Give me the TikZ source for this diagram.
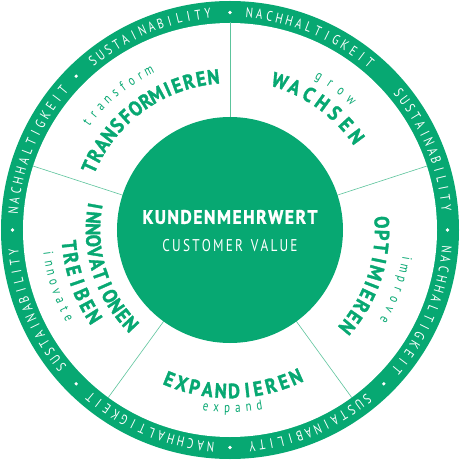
\documentclass[tikz,border=0pt]{standalone}
\usepackage{fontspec}
\newfontfamily\rsB[FakeStretch=0.9, BoldFeatures={FakeBold=1.5}]{PT Sans}
\newfontfamily\rsL[FakeStretch=0.78]{PT Sans}
\definecolor{rsgreen}{HTML}{07A872}
\definecolor{rsline}{HTML}{5CC49C}
\newcommand\fB{\rsB\bfseries\fontsize{19.5}{19.5}\selectfont}
\newcommand\fL{\rsB\bfseries\fontsize{20.5}{20.5}\selectfont}
\newcommand\fR{\rsL\fontsize{14}{14}\selectfont}
\newcommand\fC{\rsL\fontsize{17}{17}\selectfont}
\newcommand\fS{\rsL\fontsize{14}{14}\selectfont}
\tikzset{
  rslet/.style={inner sep=0pt, text depth=0pt, anchor=center},
  divider/.style={draw=rsline, line width=0.6pt},
  centertext/.style={inner sep=0pt, text depth=0pt, anchor=center, text=white}
}
\newcommand\rsplace[5]{\node[rslet, rotate=#2] at (#1:#3pt) {\rule{0pt}{#4}\smash{#5}};}
\ExplSyntaxOn
\dim_new:N \l__rs_sum_dim
\dim_new:N \l__rs_pos_dim
\dim_new:N \l__rs_track_dim
\dim_new:N \l__rs_adj_dim
\dim_set:Nn \l__rs_adj_dim { 2.4pt }
\int_new:N \l__rs_n_int
\box_new:N \l__rs_box
\fp_new:N \l__rs_ang_fp
\tl_new:N \l__rs_a_tl
\tl_new:N \l__rs_r_tl
\tl_new:N \l__rs_prev_tl
\bool_new:N \l__rs_first_bool
\cs_generate_variant:Nn \str_if_eq:nnT { eeT }
\cs_new_protected:Npn \__rs_pairadj:nN #1#2
 {
  \str_if_eq:eeT { \l__rs_prev_tl #1 } { IE }
   { \dim_sub:Nn #2 { \l__rs_adj_dim } }
  \tl_set:Nn \l__rs_prev_tl {#1}
 }
\cs_new_protected:Npn \__rs_measure:nn #1#2
 {
  \dim_zero:N \l__rs_sum_dim
  \int_zero:N \l__rs_n_int
  \tl_clear:N \l__rs_prev_tl
  \str_map_inline:nn {#2}
   {
    \__rs_pairadj:nN {##1} \l__rs_sum_dim
    \hbox_set:Nn \l__rs_box { #1 ##1 }
    \dim_add:Nn \l__rs_sum_dim { \box_wd:N \l__rs_box }
    \int_incr:N \l__rs_n_int
   }
  \int_decr:N \l__rs_n_int
 }
\NewDocumentCommand \trackbox { m m m }
 {
  \__rs_measure:nn {#2} {#3}
  \dim_set:Nn \l__rs_track_dim { (#1 - \l__rs_sum_dim) / \l__rs_n_int }
  \hbox:n
   {
    \bool_set_true:N \l__rs_first_bool
    \str_map_inline:nn {#3}
     {
      \bool_if:NTF \l__rs_first_bool
       { \bool_set_false:N \l__rs_first_bool }
       { \skip_horizontal:N \l__rs_track_dim }
      \hbox:n { #2 ##1 }
     }
   }
 }
\NewDocumentCommand \arctext { m m m m m m m }
 {
  \__rs_measure:nn {#5} {#6}
  \dim_set:Nn \l__rs_track_dim { (#4 pt - \l__rs_sum_dim) / \l__rs_n_int }
  \dim_set:Nn \l__rs_pos_dim { - #4 pt / 2 }
  \tl_clear:N \l__rs_prev_tl
  \str_map_inline:nn {#6}
   {
    \__rs_pairadj:nN {##1} \l__rs_pos_dim
    \hbox_set:Nn \l__rs_box { #5 ##1 }
    \dim_add:Nn \l__rs_pos_dim { 0.5 \box_wd:N \l__rs_box }
    \fp_set:Nn \l__rs_ang_fp { (#2) - (#3) * \dim_to_fp:n { \l__rs_pos_dim } / (#1) * 180 / pi }
    \tl_set:Nx \l__rs_a_tl { \fp_eval:n { round(\l__rs_ang_fp, 4) } }
    \tl_set:Nx \l__rs_r_tl { \fp_eval:n { round(\l__rs_ang_fp - (#3) * 90, 4) } }
    \exp_args:NVV \rsplace \l__rs_a_tl \l__rs_r_tl {#1} {#7} { #5 ##1 }
    \dim_add:Nn \l__rs_pos_dim { 0.5 \box_wd:N \l__rs_box + \l__rs_track_dim }
   }
 }
\ExplSyntaxOff
\begin{document}
\begin{tikzpicture}
\useasboundingbox (-230pt,-230pt) rectangle (230pt,230pt);
% ring
\fill[rsgreen] (0,0) circle (229pt);
\fill[white] (0,0) circle (207pt);
% dividers
\foreach \a in {90,162,234,306,18}
  \draw[divider] (\a:112pt) -- (\a:207.5pt);
% center disk
\fill[rsgreen] (0,0) circle (113pt);
% ring texts
\begin{scope}[text=white]
\foreach \a in {67.5,-22.5,-112.5,157.5}
  {\arctext{217.5}{\a}{1}{132}{\fR}{NACHHALTIGKEIT}{9.8pt}}
\foreach \a in {22.5,-67.5,-157.5,112.5}
  {\arctext{217.5}{\a}{1}{126}{\fR}{SUSTAINABILITY}{9.8pt}}
\end{scope}
\foreach \a in {90,0,-45,-90,-135,180,135}
  \fill[white] (\a:217.5pt) circle (1.8pt);
% center texts
\node[centertext, text height=13.6pt] (kmw) at (0pt,13pt) {\trackbox{175pt}{\fB}{KUNDENMEHRWERT}};
\node[centertext, text height=11.9pt] (cv) at (0pt,-16pt) {\trackbox{135pt}{\fC}{CUSTOMER VALUE}};
% sector labels
\begin{scope}[text=rsgreen]
\arctext{154}{126}{1}{160}{\fL}{TRANSFORMIEREN}{14.3pt}
\arctext{178}{130}{1}{81}{\fS}{transform}{7pt}
\arctext{157}{54}{1}{96}{\fL}{WACHSEN}{14.3pt}
\arctext{177}{53.5}{1}{40}{\fS}{grow}{7pt}
\arctext{152}{-18.4}{1}{113}{\fL}{OPTIMIEREN}{14.3pt}
\arctext{178}{-19.6}{1}{65}{\fS}{improve}{7pt}
\arctext{161}{-89}{-1}{130}{\fL}{EXPANDIEREN}{14.3pt}
\arctext{179}{-89.2}{-1}{54}{\fS}{expand}{7pt}
\arctext{137}{196.7}{-1}{128}{\fL}{INNOVATIONEN}{14.3pt}
\arctext{161.5}{199}{-1}{76}{\fL}{TREIBEN}{14.3pt}
\arctext{184.5}{198}{-1}{68}{\fS}{innovate}{7pt}
\end{scope}
\end{tikzpicture}
\end{document}
